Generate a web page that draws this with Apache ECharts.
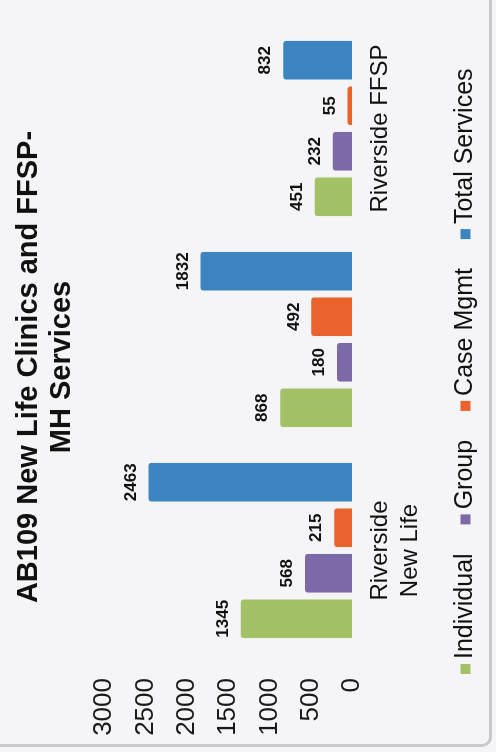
<!DOCTYPE html>
<html>
<head>
<meta charset="utf-8">
<script src="https://cdn.jsdelivr.net/npm/echarts@6/dist/echarts.min.js"></script>
<style>
  html, body { margin: 0; padding: 0; background: #f5f5f7; }
  #frame {
    position: absolute; left: 0; top: 0; width: 489px; height: 744px;
    border-right: 3px solid #c9c9cc; border-bottom: 3px solid #c9c9cc;
    border-bottom-right-radius: 10px;
  }
  #chart {
    position: absolute; left: -128px; top: 128px;
    width: 752px; height: 496px;
    transform: rotate(-90deg);
  }
</style>
</head>
<body>
<div id="frame"></div>
<div id="chart"></div>
<script>
var categories = ['Riverside\nNew Life', 'San Jacinto\nNew Life', 'Riverside FFSP'];
var individual = [1345, 868, 451];
var group = [568, 180, 232];
var caseMgmt = [215, 492, 55];
var totalServices = [2463, 1832, 832];
var seriesNames = ['Individual', 'Group', 'Case Mgmt', 'Total Services'];
var colors = ['#a3c267', '#7b69a8', '#ea632d', '#3c85c0'];

var font = '"Liberation Sans", Arial, sans-serif';

var myChart = echarts.init(document.getElementById('chart'));

function bar(name, data, color) {
  return {
    name: name,
    type: 'bar',
    data: data,
    barGap: '18%',
    barCategoryGap: '17%',
    itemStyle: { color: color, borderRadius: [3, 3, 0, 0] },
    label: {
      show: true,
      position: 'top',
      distance: 9,
      fontFamily: font,
      fontSize: 17,
      fontWeight: 'bold',
      color: '#111'
    }
  };
}

var option = {
  backgroundColor: 'transparent',
  color: colors,
  title: {
    text: 'AB109 New Life Clinics and FFSP-\nMH Services',
    left: 380,
    top: 7,
    textAlign: 'center',
    textStyle: {
      fontFamily: font,
      fontSize: 29,
      fontWeight: 'bold',
      lineHeight: 33,
      color: '#111'
    }
  },
  legend: {
    data: seriesNames,
    left: 73,
    top: 448,
    icon: 'rect',
    itemWidth: 10,
    itemHeight: 10,
    itemGap: 29,
    textStyle: { fontFamily: font, fontSize: 25, color: '#111' }
  },
  grid: { left: 96, right: 23, top: 104, bottom: 144 },
  xAxis: {
    type: 'category',
    data: categories,
    axisLine: { show: false },
    axisTick: { show: false },
    axisLabel: {
      fontFamily: font,
      fontSize: 24,
      lineHeight: 30,
      margin: 13,
      color: '#111'
    }
  },
  yAxis: {
    type: 'value',
    min: 0,
    max: 3000,
    interval: 500,
    axisLine: { show: false },
    axisTick: { show: false },
    splitLine: { show: false },
    axisLabel: {
      fontFamily: font,
      fontSize: 26,
      margin: 22,
      color: '#1a1a1a',
      formatter: function (v) { return String(v); }
    }
  },
  series: [
    bar(seriesNames[0], individual, colors[0]),
    bar(seriesNames[1], group, colors[1]),
    bar(seriesNames[2], caseMgmt, colors[2]),
    bar(seriesNames[3], totalServices, colors[3])
  ]
};
myChart.setOption(option);
</script>
</body>
</html>
